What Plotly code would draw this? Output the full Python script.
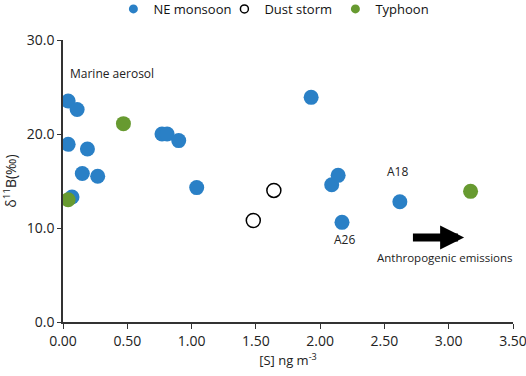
import plotly.graph_objects as go

ne_x = [0.04, 0.11, 0.04, 0.19, 0.15, 0.27, 0.07, 0.77, 0.81, 0.90, 1.04, 1.93, 2.09, 2.14, 2.17, 2.62]
ne_y = [23.5, 22.6, 18.9, 18.4, 15.8, 15.5, 13.3, 20.0, 20.0, 19.3, 14.3, 23.9, 14.6, 15.6, 10.6, 12.8]
dust_x = [1.64, 1.48]
dust_y = [14.0, 10.8]
ty_x = [0.04, 0.47, 3.17]
ty_y = [13.0, 21.1, 13.9]

BLUE = "#2a80c6"
GREEN = "#679a30"
FONT = "Open Sans"
fig = go.Figure()
fig.add_trace(go.Scatter(x=ne_x, y=ne_y, mode="markers", name="NE monsoon", showlegend=False,
                         marker=dict(size=15, color=BLUE, line=dict(width=0))))
fig.add_trace(go.Scatter(x=dust_x, y=dust_y, mode="markers", name="Dust storm", showlegend=False,
                         marker=dict(size=14, color="white", line=dict(width=1.5, color="black"))))
fig.add_trace(go.Scatter(x=ty_x, y=ty_y, mode="markers", name="Typhoon", showlegend=False,
                         marker=dict(size=15, color=GREEN, line=dict(width=0))))
# legend entries (smaller symbols as in the reference legend)
fig.add_trace(go.Scatter(x=[None], y=[None], mode="markers", name="NE monsoon",
                         marker=dict(size=9, color=BLUE)))
fig.add_trace(go.Scatter(x=[None], y=[None], mode="markers", name="Dust storm",
                         marker=dict(size=8, color="white", line=dict(width=1.5, color="black"))))
fig.add_trace(go.Scatter(x=[None], y=[None], mode="markers", name="Typhoon",
                         marker=dict(size=9, color=GREEN)))

fig.add_annotation(x=0.04, y=26.4, text="Marine aerosol", showarrow=False, xanchor="left",
                   font=dict(size=12, color="#222"))
fig.add_annotation(x=2.60, y=16.0, text="A18", showarrow=False, font=dict(size=12, color="#222"))
fig.add_annotation(x=2.19, y=8.8, text="A26", showarrow=False, font=dict(size=12, color="#222"))
fig.add_annotation(x=2.97, y=6.85, text="Anthropogenic emissions", showarrow=False,
                   font=dict(size=11.5, color="#222"))
fig.add_annotation(x=3.12, y=9.0, ax=2.71, ay=9.0, axref="x", ayref="y", xref="x", yref="y",
                   text="", showarrow=True, arrowhead=2, arrowsize=0.6, arrowwidth=8,
                   arrowcolor="black")

fig.update_layout(
    width=526, height=376,
    margin=dict(l=63, r=13, t=40, b=54, autoexpand=False),
    paper_bgcolor="white", plot_bgcolor="white",
    font=dict(family=FONT, size=14, color="#222"),
    showlegend=True,
    legend=dict(orientation="h", x=0.112, xanchor="left", y=1.11, yanchor="middle",
                font=dict(size=13, color="#111"), itemwidth=30, entrywidth=66,
                entrywidthmode="pixels", tracegroupgap=0),
    xaxis=dict(range=[0, 3.5], tickvals=[0, 0.5, 1, 1.5, 2, 2.5, 3, 3.5], tickformat=".2f",
               showgrid=False, zeroline=False, showline=True, linecolor="#333", linewidth=1.5,
               ticks="outside", ticklen=5, tickcolor="#333", ticklabeloverflow="allow",
               title=dict(text="[S] ng m<sup>-3</sup>", font=dict(size=13), standoff=6)),
    yaxis=dict(range=[0, 30], tickvals=[0, 10, 20, 30], tickformat=".1f",
               showgrid=False, zeroline=False, showline=True, linecolor="#333", linewidth=1.5,
               ticks="outside", ticklen=4, tickcolor="#333", ticklabeloverflow="allow",
               title=dict(text="δ<sup>11</sup>B(‰)", font=dict(size=14), standoff=8)),
)
fig.write_html("out.html", config={"displayModeBar": False},
               post_script="document.body.style.margin='0px';")
